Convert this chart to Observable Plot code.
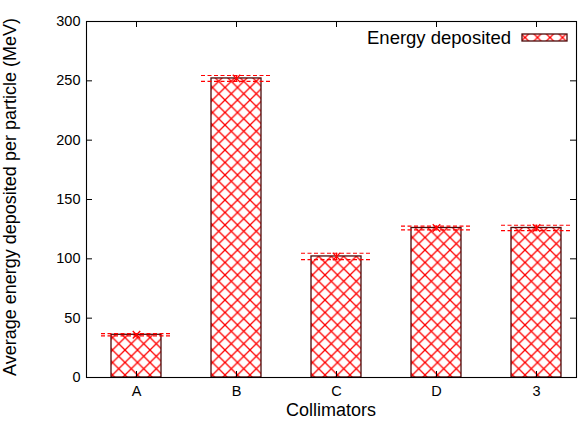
<!DOCTYPE html>
<html>
<head>
<meta charset="utf-8">
<script src="https://cdn.jsdelivr.net/npm/d3@7"></script>
<script src="https://cdn.jsdelivr.net/npm/@observablehq/plot@0.6"></script>
<style>
  html, body { margin: 0; padding: 0; background: #fff; }
  #chart { position: relative; width: 586px; height: 422px; }
  svg text { font-family: "Liberation Sans", Arial, sans-serif; }
</style>
</head>
<body>
<svg width="0" height="0" style="position:absolute">
  <defs>
    <pattern id="hatch" patternUnits="userSpaceOnUse" width="12.5" height="12.5">
      <path d="M0,0L12.5,12.5M0,12.5L12.5,0" stroke="#ff0000" stroke-width="1.3" fill="none"/>
    </pattern>
  </defs>
</svg>
<div id="chart"></div>
<script>
const collimators = ["A", "B", "C", "D", "3"];
const energy = [36, 252, 102, 126, 126];
const errors = [1.0, 2.5, 2.7, 1.6, 2.3];
const yTicks = [0, 50, 100, 150, 200, 250, 300];
const seriesName = "Energy deposited";

const data = collimators.map((c, i) => ({i, c, v: energy[i], e: errors[i]}));
const idx = collimators.map((c, i) => i);

const W = 586, H = 422, mL = 86, mR = 10, mT = 21, mB = 45;
const innerW = W - mL - mR, innerH = H - mT - mB, tl = 6;

const plot = Plot.plot({
  width: W,
  height: H,
  marginLeft: mL,
  marginRight: mR,
  marginTop: mT,
  marginBottom: mB,
  style: {fontFamily: "Liberation Sans, Arial, sans-serif", fontSize: "14.5px", color: "#000", background: "#fff"},
  x: {type: "linear", domain: [-0.5, 4.4]},
  y: {domain: [0, 300]},
  marks: [
    Plot.rectY(data, {x1: d => d.i - 0.25, x2: d => d.i + 0.25, y: "v", fill: "url(#hatch)", stroke: "#4a0a0a", strokeWidth: 1.3}),
    Plot.ruleY(data, {y: d => d.v + d.e, x1: d => d.i - 0.35, x2: d => d.i + 0.35, stroke: "#ff0000", strokeDasharray: "4,2.5", strokeWidth: 1.2}),
    Plot.ruleY(data, {y: d => d.v - d.e, x1: d => d.i - 0.35, x2: d => d.i + 0.35, stroke: "#ff0000", strokeDasharray: "4,2.5", strokeWidth: 1.2}),
    Plot.ruleX(data, {x: "i", y1: d => d.v - d.e, y2: d => d.v + d.e, stroke: "#ff0000", strokeWidth: 1.1}),
    Plot.dot(data, {x: "i", y: "v", symbol: "times", r: 3.5, stroke: "#ff0000", strokeWidth: 1.3}),
    Plot.tickY(yTicks, {y: d => d, insetRight: innerW - tl, stroke: "#000"}),
    Plot.tickY(yTicks, {y: d => d, insetLeft: innerW - tl, stroke: "#000"}),
    Plot.tickX(idx, {x: d => d, insetTop: innerH - tl, stroke: "#000"}),
    Plot.tickX(idx, {x: d => d, insetBottom: innerH - tl, stroke: "#000"}),
    Plot.axisY({ticks: yTicks, tickSize: 0, tickPadding: 6, label: null}),
    Plot.axisX({ticks: idx, tickSize: 0, tickPadding: 8, tickFormat: i => collimators[i], label: null}),
    Plot.frame({stroke: "#000", strokeWidth: 1.1})
  ]
});

const svg = d3.select(plot);
svg.append("text")
  .attr("transform", `translate(16,${mT + innerH / 2 - 2}) rotate(-90)`)
  .attr("text-anchor", "middle")
  .attr("font-size", "18px")
  .attr("fill", "#000")
  .text("Average energy deposited per particle (MeV)");
svg.append("text")
  .attr("x", mL + innerW / 2)
  .attr("y", H - 6)
  .attr("text-anchor", "middle")
  .attr("font-size", "18px")
  .attr("fill", "#000")
  .text("Collimators");
svg.append("text")
  .attr("x", 511)
  .attr("y", 44)
  .attr("text-anchor", "end")
  .attr("font-size", "18.5px")
  .attr("fill", "#000")
  .text(seriesName);
svg.append("rect")
  .attr("x", 522).attr("y", 34).attr("width", 45).attr("height", 7)
  .attr("fill", "url(#hatch)").attr("stroke", "#4a0a0a").attr("stroke-width", 1.3);

document.getElementById("chart").appendChild(plot);
</script>
</body>
</html>
